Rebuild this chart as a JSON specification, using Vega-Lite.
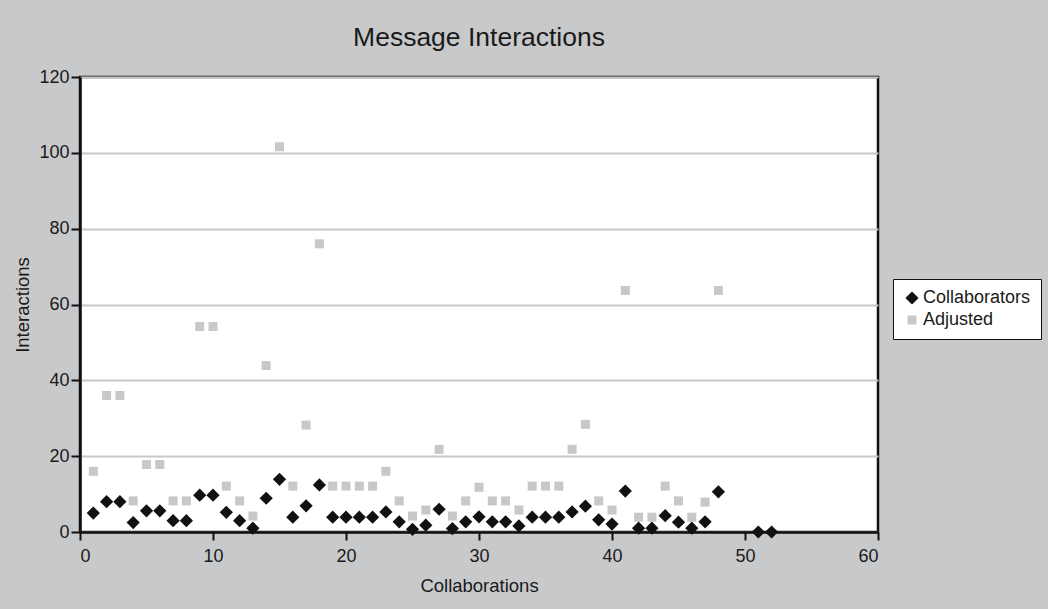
{
  "$schema": "https://vega.github.io/schema/vega-lite/v6.json",
  "autosize": "none",
  "width": 798,
  "height": 455,
  "padding": {"left": 80, "top": 77, "right": 170, "bottom": 77},
  "background": "#c8c9cb",
  "title": {"text": "Message Interactions", "fontSize": 26.5, "font": "Liberation Sans", "fontWeight": "normal", "color": "#1a1a1a", "anchor": "middle", "offset": 17},
  "config": {
    "view": {"fill": "white", "stroke": "#111", "strokeWidth": 2.5},
    "font": "Liberation Sans"
  },
  "data": {"values": [
    {"c": 1, "series": "Adjusted", "v": 16}, {"c": 2, "series": "Adjusted", "v": 36}, {"c": 3, "series": "Adjusted", "v": 36},
    {"c": 4, "series": "Adjusted", "v": 8.2}, {"c": 5, "series": "Adjusted", "v": 17.8}, {"c": 6, "series": "Adjusted", "v": 17.8},
    {"c": 7, "series": "Adjusted", "v": 8.2}, {"c": 8, "series": "Adjusted", "v": 8.2}, {"c": 9, "series": "Adjusted", "v": 54.2},
    {"c": 10, "series": "Adjusted", "v": 54.2}, {"c": 11, "series": "Adjusted", "v": 12.1}, {"c": 12, "series": "Adjusted", "v": 8.2},
    {"c": 13, "series": "Adjusted", "v": 4.2}, {"c": 14, "series": "Adjusted", "v": 43.9}, {"c": 15, "series": "Adjusted", "v": 101.6},
    {"c": 16, "series": "Adjusted", "v": 12.1}, {"c": 17, "series": "Adjusted", "v": 28.2}, {"c": 18, "series": "Adjusted", "v": 76},
    {"c": 19, "series": "Adjusted", "v": 12.1}, {"c": 20, "series": "Adjusted", "v": 12.1}, {"c": 21, "series": "Adjusted", "v": 12.1},
    {"c": 22, "series": "Adjusted", "v": 12.1}, {"c": 23, "series": "Adjusted", "v": 16}, {"c": 24, "series": "Adjusted", "v": 8.2},
    {"c": 25, "series": "Adjusted", "v": 4.2}, {"c": 26, "series": "Adjusted", "v": 5.8}, {"c": 27, "series": "Adjusted", "v": 21.8},
    {"c": 28, "series": "Adjusted", "v": 4.2}, {"c": 29, "series": "Adjusted", "v": 8.2}, {"c": 30, "series": "Adjusted", "v": 11.8},
    {"c": 31, "series": "Adjusted", "v": 8.2}, {"c": 32, "series": "Adjusted", "v": 8.2}, {"c": 33, "series": "Adjusted", "v": 5.8},
    {"c": 34, "series": "Adjusted", "v": 12.1}, {"c": 35, "series": "Adjusted", "v": 12.1}, {"c": 36, "series": "Adjusted", "v": 12.1},
    {"c": 37, "series": "Adjusted", "v": 21.8}, {"c": 38, "series": "Adjusted", "v": 28.4}, {"c": 39, "series": "Adjusted", "v": 8.2},
    {"c": 40, "series": "Adjusted", "v": 5.8}, {"c": 41, "series": "Adjusted", "v": 63.7}, {"c": 42, "series": "Adjusted", "v": 3.9},
    {"c": 43, "series": "Adjusted", "v": 3.9}, {"c": 44, "series": "Adjusted", "v": 12.1}, {"c": 45, "series": "Adjusted", "v": 8.2},
    {"c": 46, "series": "Adjusted", "v": 3.9}, {"c": 47, "series": "Adjusted", "v": 7.9}, {"c": 48, "series": "Adjusted", "v": 63.7},
    {"c": 1, "series": "Collaborators", "v": 5}, {"c": 2, "series": "Collaborators", "v": 8}, {"c": 3, "series": "Collaborators", "v": 8},
    {"c": 4, "series": "Collaborators", "v": 2.5}, {"c": 5, "series": "Collaborators", "v": 5.6}, {"c": 6, "series": "Collaborators", "v": 5.6},
    {"c": 7, "series": "Collaborators", "v": 3}, {"c": 8, "series": "Collaborators", "v": 3}, {"c": 9, "series": "Collaborators", "v": 9.7},
    {"c": 10, "series": "Collaborators", "v": 9.7}, {"c": 11, "series": "Collaborators", "v": 5.2}, {"c": 12, "series": "Collaborators", "v": 3},
    {"c": 13, "series": "Collaborators", "v": 1}, {"c": 14, "series": "Collaborators", "v": 8.9}, {"c": 15, "series": "Collaborators", "v": 13.9},
    {"c": 16, "series": "Collaborators", "v": 3.9}, {"c": 17, "series": "Collaborators", "v": 6.9}, {"c": 18, "series": "Collaborators", "v": 12.4},
    {"c": 19, "series": "Collaborators", "v": 3.9}, {"c": 20, "series": "Collaborators", "v": 3.9}, {"c": 21, "series": "Collaborators", "v": 3.9},
    {"c": 22, "series": "Collaborators", "v": 3.9}, {"c": 23, "series": "Collaborators", "v": 5.3}, {"c": 24, "series": "Collaborators", "v": 2.7},
    {"c": 25, "series": "Collaborators", "v": 0.7}, {"c": 26, "series": "Collaborators", "v": 1.8}, {"c": 27, "series": "Collaborators", "v": 6},
    {"c": 28, "series": "Collaborators", "v": 0.9}, {"c": 29, "series": "Collaborators", "v": 2.7}, {"c": 30, "series": "Collaborators", "v": 4},
    {"c": 31, "series": "Collaborators", "v": 2.7}, {"c": 32, "series": "Collaborators", "v": 2.7}, {"c": 33, "series": "Collaborators", "v": 1.6},
    {"c": 34, "series": "Collaborators", "v": 3.9}, {"c": 35, "series": "Collaborators", "v": 3.9}, {"c": 36, "series": "Collaborators", "v": 3.9},
    {"c": 37, "series": "Collaborators", "v": 5.3}, {"c": 38, "series": "Collaborators", "v": 6.8}, {"c": 39, "series": "Collaborators", "v": 3.2},
    {"c": 40, "series": "Collaborators", "v": 2.1}, {"c": 41, "series": "Collaborators", "v": 10.8}, {"c": 42, "series": "Collaborators", "v": 1},
    {"c": 43, "series": "Collaborators", "v": 1}, {"c": 44, "series": "Collaborators", "v": 4.3}, {"c": 45, "series": "Collaborators", "v": 2.6},
    {"c": 46, "series": "Collaborators", "v": 1}, {"c": 47, "series": "Collaborators", "v": 2.7}, {"c": 48, "series": "Collaborators", "v": 10.6},
    {"c": 51, "series": "Collaborators", "v": 0}, {"c": 52, "series": "Collaborators", "v": 0}
  ]},
  "mark": {"type": "point", "filled": true, "opacity": 1},
  "encoding": {
    "x": {"field": "c", "type": "quantitative",
      "scale": {"domain": [0, 60], "nice": false, "zero": true},
      "axis": {"title": "Collaborations", "values": [0, 10, 20, 30, 40, 50, 60], "grid": false,
        "domainColor": "#111", "domainWidth": 2.5, "tickColor": "#111", "tickWidth": 2, "tickSize": 8,
        "labelFontSize": 18, "labelColor": "#1a1a1a", "labelPadding": 7, "labelFont": "Liberation Sans",
        "titleFontSize": 18.5, "titleFontWeight": "normal", "titleColor": "#1a1a1a", "titlePadding": 11, "titleFont": "Liberation Sans"}},
    "y": {"field": "v", "type": "quantitative",
      "scale": {"domain": [0, 120], "nice": false},
      "axis": {"title": "Interactions", "values": [0, 20, 40, 60, 80, 100, 120], "grid": true,
        "gridColor": "#c8c8c8", "gridWidth": 2, "gridOpacity": 1,
        "domainColor": "#111", "domainWidth": 2.5, "tickColor": "#111", "tickWidth": 2, "tickSize": 9,
        "labelFontSize": 18, "labelColor": "#1a1a1a", "labelPadding": 2, "labelFont": "Liberation Sans",
        "titleFontSize": 18.5, "titleFontWeight": "normal", "titleColor": "#1a1a1a", "titlePadding": 6, "titleFont": "Liberation Sans"}},
    "color": {"field": "series", "type": "nominal",
      "scale": {"domain": ["Collaborators", "Adjusted"], "range": ["#111111", "#c8c8c8"]},
      "legend": {"title": null, "orient": "none", "legendX": 813, "legendY": 202,
        "strokeColor": "#111", "fillColor": "white", "padding": 10,
        "labelFontSize": 18, "labelColor": "#1a1a1a", "labelFont": "Liberation Sans", "labelOffset": 2,
        "symbolSize": 220, "symbolStrokeWidth": 0, "rowPadding": 4, "symbolOpacity": 1}},
    "shape": {"field": "series", "type": "nominal",
      "scale": {"domain": ["Collaborators", "Adjusted"], "range": ["diamond", "square"]}},
    "size": {"field": "series", "type": "nominal",
      "scale": {"domain": ["Collaborators", "Adjusted"], "range": [175, 81]}, "legend": null}
  }
}
